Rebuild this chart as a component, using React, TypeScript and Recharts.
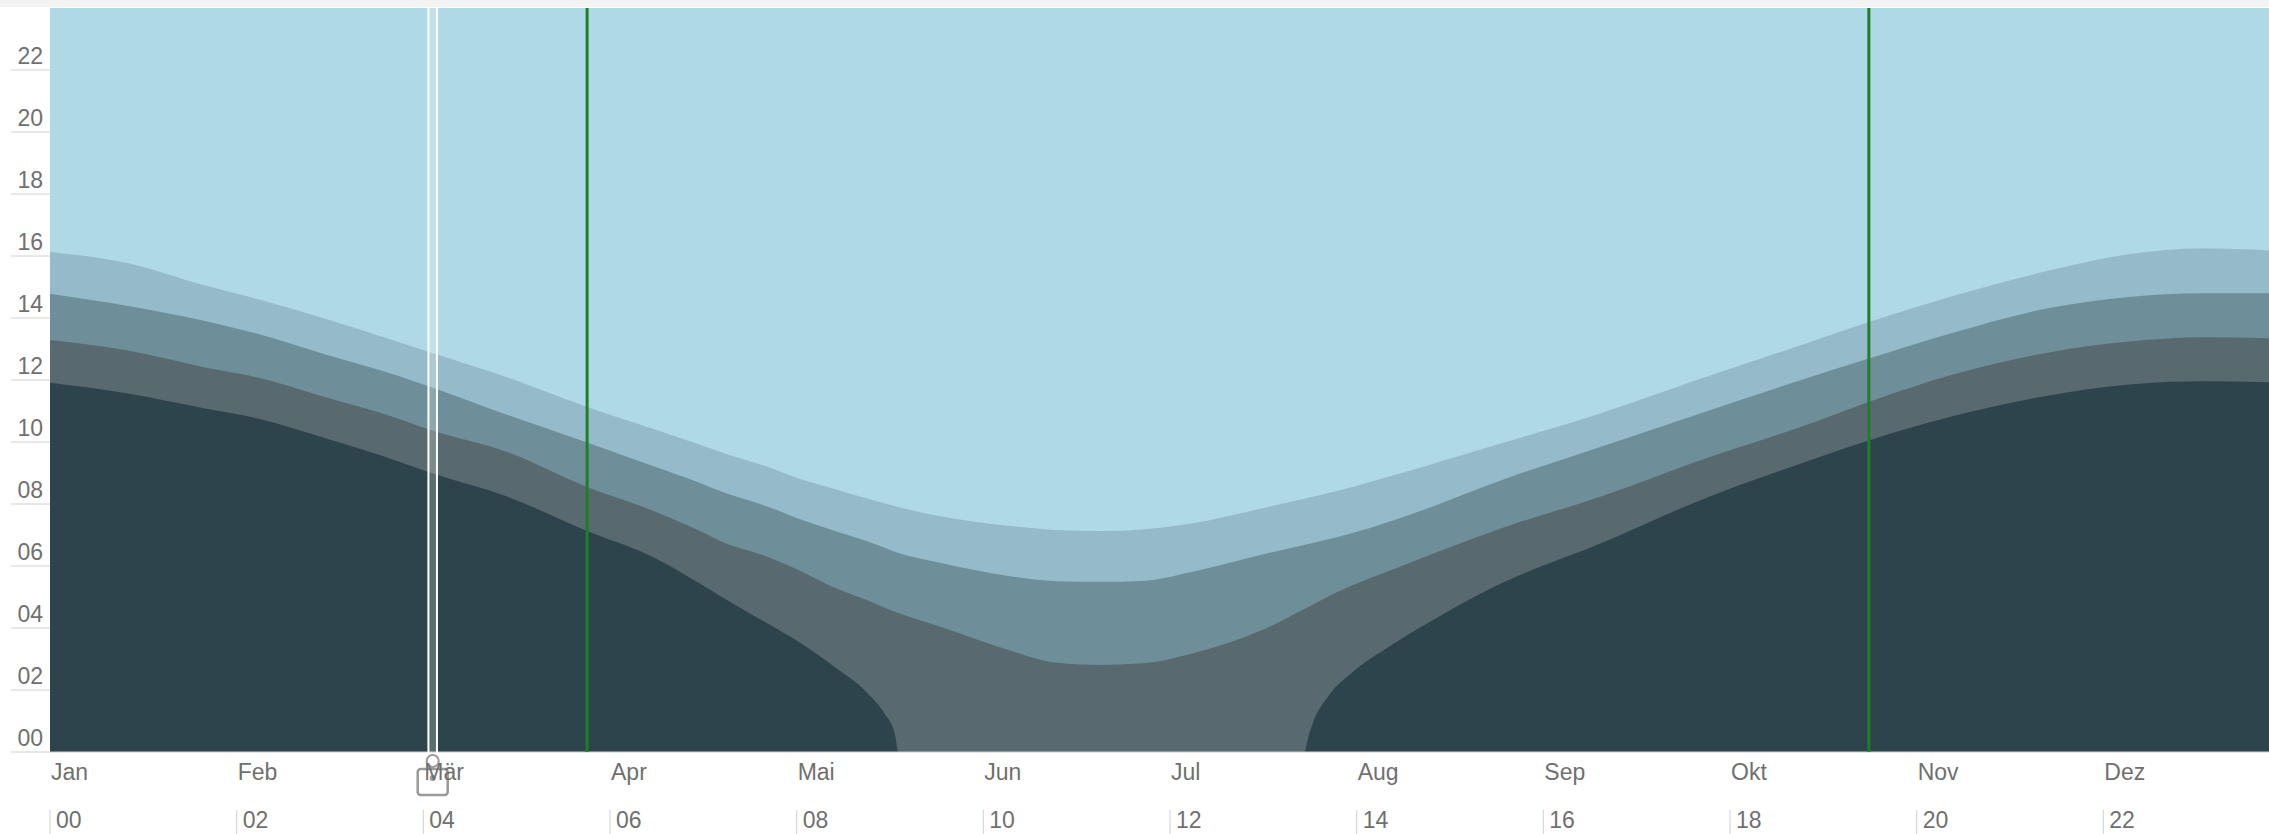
import { AreaChart, Area, XAxis, YAxis, CartesianGrid, ReferenceLine, ReferenceArea } from 'recharts';

// x = day of year, y = hour of day (band boundaries)
const monthLabels = ['Jan', 'Feb', 'Mär', 'Apr', 'Mai', 'Jun', 'Jul', 'Aug', 'Sep', 'Okt', 'Nov', 'Dez'];
const hourTicks = [0, 2, 4, 6, 8, 10, 12, 14, 16, 18, 20, 22];
const hourLabels = ['00', '02', '04', '06', '08', '10', '12', '14', '16', '18', '20', '22'];
const dayMax = 367;
// month labels and the hour labels below them share twelve equal slots
const monthTicks = monthLabels.map((_, i) => (i * dayMax) / 12);

const days = [0, 13, 25, 34, 45, 57, 62, 75, 88, 99, 106.6, 110, 117.5, 123, 128, 134, 139, 146, 157, 165, 172, 179, 187, 199, 206, 210.5, 222, 237.8, 254.1, 270.5, 286.9, 298.1, 311.5, 327.5, 340.2, 352.9, 363.6, 367];
const civilEnd = [16.13, 15.76, 15.07, 14.61, 13.98, 13.23, 12.91, 12.08, 11.13, 10.41, 9.9, 9.67, 9.2, 8.8, 8.52, 8.17, 7.9, 7.6, 7.3, 7.16, 7.13, 7.18, 7.37, 7.88, 8.19, 8.4, 9.03, 9.96, 10.93, 12.05, 13.13, 13.88, 14.69, 15.53, 16.05, 16.25, 16.18, 16.14];
const nauticalEnd = [14.78, 14.38, 13.92, 13.49, 12.83, 12.14, 11.8, 10.87, 9.98, 9.21, 8.67, 8.4, 7.92, 7.5, 7.17, 6.79, 6.42, 6.1, 5.68, 5.51, 5.49, 5.52, 5.81, 6.39, 6.7, 6.91, 7.6, 8.77, 9.85, 10.93, 12.0, 12.7, 13.51, 14.32, 14.67, 14.8, 14.8, 14.79];
const astroEnd = [13.29, 12.94, 12.42, 12.08, 11.45, 10.76, 10.41, 9.67, 8.55, 7.77, 7.12, 6.79, 6.3, 5.84, 5.35, 4.89, 4.48, 4.03, 3.29, 2.88, 2.81, 2.86, 3.17, 3.97, 4.66, 5.12, 6.04, 7.22, 8.24, 9.42, 10.49, 11.3, 12.16, 12.89, 13.23, 13.38, 13.35, 13.32];

const nightDays = [0, 13, 25, 34, 45, 57, 62, 75, 88, 99, 106.6, 110, 117.5, 123, 128.5, 134, 136.7, 138.4, 139, 205.5, 206.2, 207, 209.4, 213.5, 219.3, 228.1, 237.8, 254.1, 270.5, 286.9, 298.1, 311.5, 327.5, 340.2, 352.9, 363.6, 367];
const nightEnd = [11.91, 11.56, 11.1, 10.76, 10.13, 9.38, 9.03, 8.23, 7.13, 6.27, 5.42, 5.01, 4.15, 3.51, 2.75, 1.89, 1.25, 0.6, 0, 0, 0.5, 0.98, 1.79, 2.59, 3.39, 4.43, 5.44, 6.73, 8.13, 9.31, 10.06, 10.82, 11.5, 11.85, 11.96, 11.93, 11.91];

const dstDays = [88, 298];
const cursorDays = [62, 63.4];

const bands = days.map((d, i) => ({ day: d, civil: civilEnd[i], nautical: nauticalEnd[i], astro: astroEnd[i] }));
const night = nightDays.map((d, i) => ({ day: d, night: nightEnd[i] }));

const font = { fontFamily: '"Liberation Sans", Arial, sans-serif', fontSize: 23, fill: '#707070' };

function LeftTick({ x, y, payload }: any) {
  return (
    <g>
      <line x1={x - 39} x2={x} y1={y} y2={y} stroke="#d0d0d0" />
      <text x={x - 7} y={y - 6} textAnchor="end" {...font}>
        {hourLabels[hourTicks.indexOf(payload.value)]}
      </text>
    </g>
  );
}

function BottomTick({ x, y, payload }: any) {
  const i = monthTicks.indexOf(payload.value);
  return (
    <g>
      <text x={x + 1} y={y + 28} textAnchor="start" {...font}>{monthLabels[i]}</text>
      <line x1={x} x2={x} y1={y + 58} y2={y + 84} stroke="#d0d0d0" />
      <text x={x + 6} y={y + 76} textAnchor="start" {...font}>{hourLabels[i]}</text>
    </g>
  );
}

function CursorHandle({ viewBox }: any) {
  if (!viewBox) return null;
  const left = viewBox.x;
  const right = viewBox.x + viewBox.width;
  const cx = (left + right) / 2;
  const bottom = viewBox.y + viewBox.height;
  return (
    <g>
      <line x1={left} x2={left} y1={bottom} y2={bottom + 5} stroke="#fff" strokeWidth={2} />
      <line x1={right} x2={right} y1={bottom} y2={bottom + 5} stroke="#fff" strokeWidth={2} />
      <circle cx={cx} cy={bottom + 9} r={6} fill="none" stroke="#9a9a9a" strokeWidth={2} />
      <rect x={cx - 15} y={bottom + 17} width={30} height={26} rx={3} fill="none" stroke="#9a9a9a" strokeWidth={2.5} />
      <circle cx={cx} cy={bottom + 26} r={3} fill="#9a9a9a" />
    </g>
  );
}

export default function App() {
  return (
    <div style={{ position: 'fixed', left: 0, top: 0, width: 2269, height: 834, overflow: 'hidden', background: '#fff' }}>
      <AreaChart width={2290} height={834} margin={{ top: 8, right: 0, bottom: 0, left: 0 }}>
        <CartesianGrid horizontal={false} vertical={false} fill="#b0d9e6" stroke="none" />
        <XAxis
          dataKey="day"
          type="number"
          domain={[0, dayMax]}
          allowDataOverflow
          ticks={monthTicks}
          interval={0}
          height={82}
          tickSize={0}
          tickMargin={0}
          tickLine={false}
          axisLine={{ stroke: '#d0d0d0' }}
          tick={<BottomTick />}
        />
        <YAxis
          type="number"
          domain={[0, 24]}
          ticks={hourTicks}
          allowDataOverflow
          width={50}
          tickSize={0}
          tickMargin={0}
          tickLine={false}
          axisLine={false}
          tick={<LeftTick />}
          interval={0}
        />
        <Area data={bands} dataKey="civil" type="monotone" stroke="none" fill="#95bbcb" fillOpacity={1} isAnimationActive={false} />
        <Area data={bands} dataKey="nautical" type="monotone" stroke="none" fill="#6e8f99" fillOpacity={1} isAnimationActive={false} />
        <Area data={bands} dataKey="astro" type="monotone" stroke="none" fill="#58696f" fillOpacity={1} isAnimationActive={false} />
        <Area data={night} dataKey="night" type="monotone" stroke="none" fill="#2e444d" fillOpacity={1} isAnimationActive={false} />
        {dstDays.map(d => (
          <ReferenceLine key={d} x={d} stroke="#1f7f27" strokeWidth={3} zIndex={900} />
        ))}
        <ReferenceArea
          x1={cursorDays[0]}
          x2={cursorDays[1]}
          fill="#ffffff"
          fillOpacity={0.22}
          stroke="none"
          ifOverflow="visible"
          zIndex={900}
          label={<CursorHandle />}
        />
        {cursorDays.map(d => (
          <ReferenceLine key={d} x={d} stroke="#ffffff" strokeWidth={2} zIndex={900} />
        ))}
      </AreaChart>
      <div style={{ position: 'absolute', left: 0, top: 0, width: '100%', height: 7, background: '#f4f4f4' }} />
    </div>
  );
}
